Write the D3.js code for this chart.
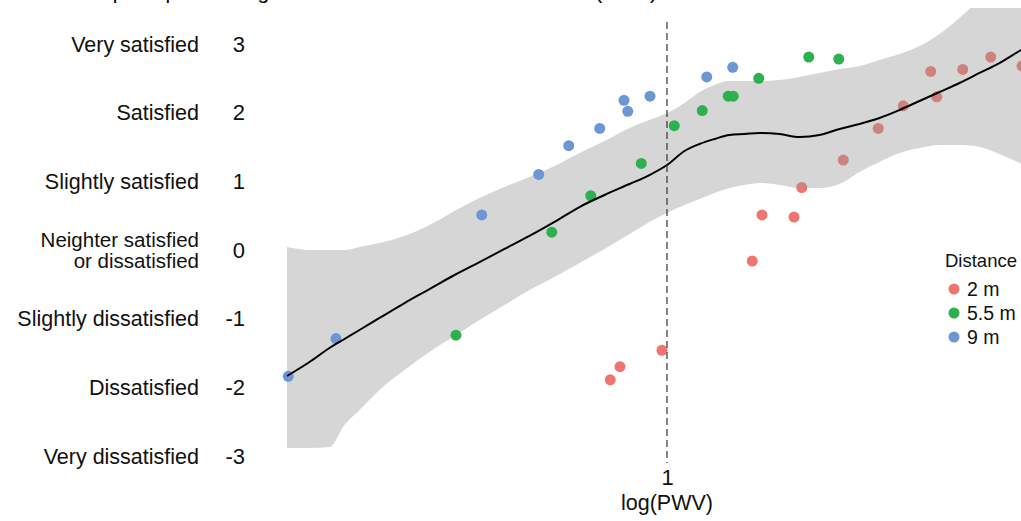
<!DOCTYPE html>
<html>
<head>
<meta charset="utf-8">
<script src="https://cdn.jsdelivr.net/npm/d3@7"></script>
<style>
  body { margin: 0; background: #fff; }
  svg { display: block; font-family: "Liberation Sans", Arial, sans-serif; }
</style>
</head>
<body>
<svg id="chart"></svg>
<script>
// ---------------- data ----------------
var levelValues = [3, 2, 1, 0, -1, -2, -3];
var levelLabels = ["Very satisfied", "Satisfied", "Slightly satisfied",
  "Neighter satisfied\nor dissatisfied", "Slightly dissatisfied", "Dissatisfied", "Very dissatisfied"];

var distances = ["2 m", "5.5 m", "9 m"];
var colors = ["#F07470", "#2DB04F", "#6C96D4"];

// x = log(PWV), y = satisfaction vote
var x2m = [0.773, 0.812, 0.98, 1.341, 1.38, 1.508, 1.539, 1.705, 1.845, 1.945, 2.055, 2.079, 2.183, 2.295, 2.42];
var y2m = [-1.89, -1.70, -1.46, -0.16, 0.51, 0.48, 0.91, 1.31, 1.77, 2.10, 2.60, 2.23, 2.63, 2.81, 2.68];

var x55m = [0.156, 0.539, 0.695, 0.897, 1.029, 1.141, 1.245, 1.265, 1.367, 1.567, 1.687];
var y55m = [-1.24, 0.26, 0.79, 1.26, 1.81, 2.03, 2.24, 2.24, 2.50, 2.81, 2.78];

var x9m = [-0.515, -0.324, 0.259, 0.487, 0.607, 0.731, 0.828, 0.843, 0.932, 1.159, 1.263];
var y9m = [-1.84, -1.29, 0.51, 1.10, 1.52, 1.77, 2.18, 2.02, 2.24, 2.52, 2.66];

// loess smooth with confidence band
var smoothX = [-0.52, -0.43, -0.35, -0.29, -0.23, -0.15, -0.05, 0.05, 0.15, 0.25, 0.35, 0.45, 0.55,
  0.65, 0.75, 0.85, 0.93, 1.0, 1.07, 1.13, 1.19, 1.25, 1.31, 1.37, 1.45, 1.53, 1.61, 1.69, 1.77,
  1.85, 1.93, 2.01, 2.09, 2.17, 2.25, 2.33, 2.41, 2.49];
var smoothFit = [-1.835, -1.631, -1.427, -1.296, -1.165, -0.990, -0.772, -0.568, -0.364, -0.175, 0.015,
  0.204, 0.408, 0.626, 0.801, 0.961, 1.092, 1.238, 1.442, 1.544, 1.616, 1.675, 1.689, 1.704, 1.689,
  1.646, 1.675, 1.762, 1.835, 1.922, 2.039, 2.170, 2.301, 2.432, 2.578, 2.723, 2.898, 3.058];
var smoothHi = [0.044, 0, 0, 0, 0.044, 0.102, 0.204, 0.364, 0.568, 0.757, 0.917, 1.063, 1.223,
  1.413, 1.587, 1.777, 1.893, 1.995, 2.141, 2.301, 2.403, 2.461, 2.461, 2.461, 2.476, 2.519, 2.578,
  2.636, 2.680, 2.767, 2.854, 2.971, 3.146, 3.379, 3.641, 3.859, 4.078, 4.296];
var smoothLo = [-2.883, -2.883, -2.869, -2.549, -2.330, -2.039, -1.748, -1.485, -1.252, -1.019, -0.801,
  -0.583, -0.393, -0.189, 0.015, 0.233, 0.408, 0.539, 0.655, 0.743, 0.830, 0.903, 0.947, 0.976, 0.947,
  0.903, 0.903, 0.961, 1.136, 1.282, 1.413, 1.485, 1.529, 1.529, 1.500, 1.398, 1.267, 1.136];

var xTicks = [1];

// ---------------- layout ----------------
var width = 1021, height = 521;
var svg = d3.select("#chart").attr("width", width).attr("height", height);

var x = d3.scaleLinear().domain([0, 1]).range([417, 667]);
var y = d3.scaleLinear().domain([-3, 3]).range([456, 44]);

var panel = {left: 270, top: 8, right: 1060, bottom: 470};

svg.append("clipPath").attr("id", "clip")
  .append("rect")
  .attr("x", panel.left).attr("y", panel.top)
  .attr("width", panel.right - panel.left).attr("height", panel.bottom - panel.top);

var g = svg.append("g").attr("clip-path", "url(#clip)");

function toPoints(xs, ys, i) {
  return xs.map(function(d, k) { return {x: d, y: ys[k], group: i}; });
}
var groups = [toPoints(x2m, y2m, 0), toPoints(x55m, y55m, 1), toPoints(x9m, y9m, 2)];

var smooth = smoothX.map(function(d, i) {
  return {x: d, fit: smoothFit[i], lo: smoothLo[i], hi: smoothHi[i]};
});

// red points sit under the band
g.selectAll("circle.red")
  .data(groups[0])
  .enter().append("circle")
  .attr("class", "red")
  .attr("cx", function(d) { return x(d.x); })
  .attr("cy", function(d) { return y(d.y); })
  .attr("r", 5.5)
  .style("fill", colors[0]);

// confidence band
var area = d3.area()
  .x(function(d) { return x(d.x); })
  .y0(function(d) { return y(d.lo); })
  .y1(function(d) { return y(d.hi); })
  .curve(d3.curveMonotoneX);

g.append("path")
  .datum(smooth)
  .attr("d", area)
  .style("fill", "#999999")
  .style("fill-opacity", 0.4);

// green and blue points
[1, 2].forEach(function(i) {
  g.selectAll("circle.grp" + i)
    .data(groups[i])
    .enter().append("circle")
    .attr("class", "grp" + i)
    .attr("cx", function(d) { return x(d.x); })
    .attr("cy", function(d) { return y(d.y); })
    .attr("r", 5.5)
    .style("fill", colors[i]);
});

// fitted line
var line = d3.line()
  .x(function(d) { return x(d.x); })
  .y(function(d) { return y(d.fit); })
  .curve(d3.curveMonotoneX);

g.append("path")
  .datum(smooth)
  .attr("d", line)
  .style("fill", "none")
  .style("stroke", "#000")
  .style("stroke-width", 2);

// dashed reference at log(PWV) = 1
svg.append("line")
  .attr("x1", x(1)).attr("x2", x(1))
  .attr("y1", 22).attr("y2", 463)
  .style("stroke", "#333")
  .style("stroke-width", 1.2)
  .style("stroke-dasharray", "7,4");

// ---------------- axes ----------------
var plainNum = function(d) { return String(d); }; // keep the ascii hyphen

var xAxis = svg.append("g")
  .attr("transform", "translate(0,464)")
  .call(d3.axisBottom(x).tickValues(xTicks).tickSize(0).tickPadding(6).tickFormat(plainNum));
xAxis.select(".domain").remove();
xAxis.selectAll("text").style("font-size", "22px").style("fill", "#111").attr("dy", "0.7em");

svg.append("text")
  .attr("x", x(1)).attr("y", 510)
  .attr("text-anchor", "middle")
  .style("font-size", "21.5px")
  .style("fill", "#111")
  .text("log(PWV)");

var yAxis = svg.append("g")
  .attr("transform", "translate(248,0)")
  .call(d3.axisLeft(y).tickValues(levelValues).tickSize(0).tickPadding(3).tickFormat(plainNum));
yAxis.select(".domain").remove();
yAxis.selectAll("text").style("font-size", "22px").style("fill", "#111");

// level names, one text per line so two-line labels stack cleanly
var labelLines = [];
levelValues.forEach(function(v, i) {
  var parts = levelLabels[i].split("\n");
  parts.forEach(function(s, k) {
    labelLines.push({v: v, text: s, offset: k - (parts.length - 1) / 2});
  });
});

svg.append("g").selectAll("text")
  .data(labelLines)
  .enter().append("text")
  .attr("x", 199)
  .attr("y", function(d) { return y(d.v) + d.offset * 21; })
  .attr("dy", "0.35em")
  .attr("text-anchor", "end")
  .style("font-size", function(d) { return d.offset === 0 ? "21.5px" : "20.5px"; })
  .style("fill", "#111")
  .text(function(d) { return d.text; });

// clipped titles at the very top
svg.append("text")
  .attr("x", 30).attr("y", -1)
  .style("font-size", "21px")
  .text("Thermal perception rating");
svg.append("text")
  .attr("x", 657).attr("y", -1)
  .attr("text-anchor", "end")
  .style("font-size", "21px")
  .text("Air movement (PWV)");

// ---------------- legend ----------------
var legend = svg.append("g").attr("transform", "translate(945,0)");
legend.append("text")
  .attr("x", 0).attr("y", 267)
  .style("font-size", "18.5px")
  .style("fill", "#111")
  .text("Distance");

var item = legend.selectAll("g.item")
  .data(distances)
  .enter().append("g")
  .attr("class", "item")
  .attr("transform", function(d, i) { return "translate(0," + (289 + i * 24) + ")"; });

item.append("circle")
  .attr("cx", 9).attr("cy", 0).attr("r", 5.5)
  .style("fill", function(d, i) { return colors[i]; });

item.append("text")
  .attr("x", 22).attr("y", 0).attr("dy", "0.35em")
  .style("font-size", "19.5px")
  .style("fill", "#111")
  .text(function(d) { return d; });
</script>
</body>
</html>
